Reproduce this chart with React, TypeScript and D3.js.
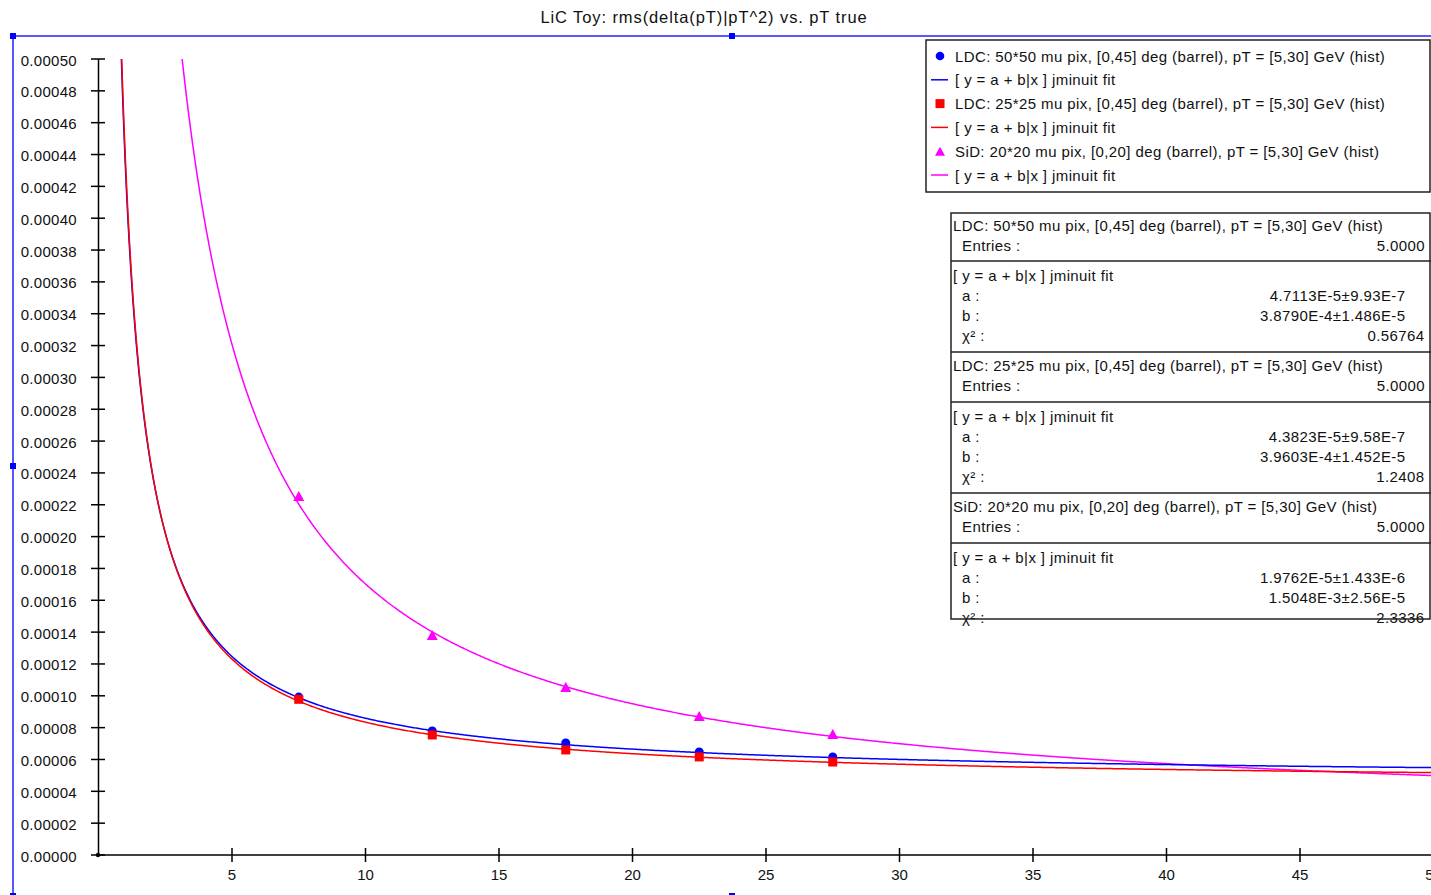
import React from "react";
import * as d3 from "d3";

// pT bin centres (GeV)
const ptCentres = [7.5, 12.5, 17.5, 22.5, 27.5];

// rms(delta(pT))/pT^2 per bin for each detector setup
const ldc50Values = [9.92e-5, 7.79e-5, 7.04e-5, 6.47e-5, 6.16e-5];
const ldc25Values = [9.78e-5, 7.54e-5, 6.6e-5, 6.16e-5, 5.84e-5];
const sidValues = [2.249e-4, 1.376e-4, 1.049e-4, 8.67e-5, 7.54e-5];

// fit parameters of y = a + b/x
const ldc50Fit = { a: 4.7113e-5, b: 3.879e-4 };
const ldc25Fit = { a: 4.3823e-5, b: 3.9603e-4 };
const sidFit = { a: 1.9762e-5, b: 1.5048e-3 };

const xTicks = [5, 10, 15, 20, 25, 30, 35, 40, 45, 50];
const yTicks = d3.range(0, 26).map((i) => i * 0.00002);

const legendLabels = [
  "LDC: 50*50 mu pix, [0,45] deg (barrel), pT = [5,30] GeV (hist)",
  "[ y = a + b|x ] jminuit fit",
  "LDC: 25*25 mu pix, [0,45] deg (barrel), pT = [5,30] GeV (hist)",
  "[ y = a + b|x ] jminuit fit",
  "SiD: 20*20 mu pix, [0,20] deg (barrel), pT = [5,30] GeV (hist)",
  "[ y = a + b|x ] jminuit fit",
];

const statsSections = [
  {
    title: "LDC: 50*50 mu pix, [0,45] deg (barrel), pT = [5,30] GeV (hist)",
    entries: "5.0000",
    fit: "[ y = a + b|x ] jminuit fit",
    a: "4.7113E-5±9.93E-7",
    b: "3.8790E-4±1.486E-5",
    chi2: "0.56764",
  },
  {
    title: "LDC: 25*25 mu pix, [0,45] deg (barrel), pT = [5,30] GeV (hist)",
    entries: "5.0000",
    fit: "[ y = a + b|x ] jminuit fit",
    a: "4.3823E-5±9.58E-7",
    b: "3.9603E-4±1.452E-5",
    chi2: "1.2408",
  },
  {
    title: "SiD: 20*20 mu pix, [0,20] deg (barrel), pT = [5,30] GeV (hist)",
    entries: "5.0000",
    fit: "[ y = a + b|x ] jminuit fit",
    a: "1.9762E-5±1.433E-6",
    b: "1.5048E-3±2.56E-5",
    chi2: "2.3336",
  },
];

const BLUE = "#0000ff";
const RED = "#ff0000";
const MAGENTA = "#ff00ff";
const FONT = "Liberation Sans, Arial, Helvetica, sans-serif";

const W = 1431;
const H = 895;

const x = d3.scaleLinear().domain([0, 50]).range([98.5, 1433.5]);
const y = d3.scaleLinear().domain([0, 0.0005]).range([855, 59]);

const curveXs = d3.range(0.5, 50.25, 0.05);

function fitPath(p: { a: number; b: number }) {
  const line = d3
    .line<number>()
    .x((v) => x(v))
    .y((v) => y(p.a + p.b / v));
  return line(curveXs) || "";
}

function Circle({ cx, cy, r = 4.5 }: { cx: number; cy: number; r?: number }) {
  return <circle cx={cx} cy={cy} r={r} fill={BLUE} />;
}
function Square({ cx, cy, s = 9 }: { cx: number; cy: number; s?: number }) {
  return <rect x={cx - s / 2} y={cy - s / 2} width={s} height={s} fill={RED} />;
}
function Triangle({ cx, cy, s = 11 }: { cx: number; cy: number; s?: number }) {
  const h = s * 0.9;
  return (
    <path
      d={`M${cx},${cy - h / 2 - 1}L${cx + s / 2},${cy + h / 2 - 1}L${cx - s / 2},${cy + h / 2 - 1}Z`}
      fill={MAGENTA}
    />
  );
}

export default function App() {
  const handles: [number, number][] = [
    [13, 36],
    [732, 36],
    [13, 466],
    [13, 896],
    [732, 896],
  ];

  const statTops = [213, 261, 352, 402, 493, 543];
  const rowH = 20;
  const LS = 0.4;

  return (
    <svg
      width={W}
      height={H}
      style={{ position: "absolute", left: 0, top: 0, background: "#fff" }}
      fontFamily={FONT}
    >
      <defs>
        <clipPath id="plotClip">
          <rect x={98.5} y={59} width={1340} height={796} />
        </clipPath>
      </defs>

      {/* Title */}
      <text
        x={704}
        y={17}
        fontSize={16.5}
        letterSpacing={0.9}
        textAnchor="middle"
        dominantBaseline="central"
        fill="#111"
      >
        LiC Toy: rms(delta(pT)|pT^2) vs. pT true
      </text>

      {/* Selection frame */}
      <rect x={13} y={36} width={1438} height={860} fill="none" stroke={BLUE} strokeWidth={1.3} />
      {handles.map(([hx, hy], i) => (
        <rect key={i} x={hx - 3} y={hy - 3} width={6} height={6} fill={BLUE} />
      ))}

      {/* Y axis */}
      <line x1={98.5} x2={98.5} y1={y(0.0005)} y2={y(0)} stroke="#000" strokeWidth={1.5} />
      {yTicks.map((v) => (
        <g key={v}>
          <line x1={91} x2={105} y1={y(v)} y2={y(v)} stroke="#000" strokeWidth={1.5} />
          <text
            x={77}
            y={y(v) + 1}
            fontSize={15}
            letterSpacing={0.3}
            textAnchor="end"
            dominantBaseline="central"
            fill="#111"
          >
            {v.toFixed(5)}
          </text>
        </g>
      ))}

      {/* X axis */}
      <line x1={98.5} x2={1433.5} y1={855} y2={855} stroke="#000" strokeWidth={1.5} />
      {xTicks.map((v) => (
        <g key={v}>
          <line x1={x(v)} x2={x(v)} y1={848} y2={862} stroke="#000" strokeWidth={1.5} />
          <text x={x(v)} y={874} fontSize={15} textAnchor="middle" dominantBaseline="central" fill="#111">
            {v}
          </text>
        </g>
      ))}
      <circle cx={98} cy={855} r={2.2} fill="#000" />

      {/* Fit curves */}
      <g clipPath="url(#plotClip)" fill="none" strokeWidth={1.5}>
        <path d={fitPath(sidFit)} stroke={MAGENTA} />
        <path d={fitPath(ldc50Fit)} stroke={BLUE} />
        <path d={fitPath(ldc25Fit)} stroke={RED} />
      </g>

      {/* Data points */}
      {ptCentres.map((pt, i) => (
        <Circle key={"c" + i} cx={x(pt)} cy={y(ldc50Values[i])} />
      ))}
      {ptCentres.map((pt, i) => (
        <Square key={"s" + i} cx={x(pt)} cy={y(ldc25Values[i])} />
      ))}
      {ptCentres.map((pt, i) => (
        <Triangle key={"t" + i} cx={x(pt)} cy={y(sidValues[i])} />
      ))}

      {/* Legend */}
      <rect x={926} y={40} width={504} height={152} fill="#fff" stroke="#222" strokeWidth={1.5} />
      {legendLabels.map((lbl, i) => {
        const ry = 56 + i * 23.8;
        let marker: React.ReactNode = null;
        if (i === 0) marker = <Circle cx={940} cy={ry} r={4.3} />;
        else if (i === 2) marker = <Square cx={940} cy={ry} s={9} />;
        else if (i === 4) marker = <Triangle cx={940} cy={ry + 1} s={10} />;
        else {
          const c = i === 1 ? BLUE : i === 3 ? RED : MAGENTA;
          marker = <line x1={931} x2={948} y1={ry} y2={ry} stroke={c} strokeWidth={1.5} />;
        }
        return (
          <g key={i}>
            {marker}
            <text x={955} y={ry} fontSize={15} letterSpacing={LS} dominantBaseline="central" fill="#111">
              {lbl}
            </text>
          </g>
        );
      })}

      {/* Statistics box */}
      <g>
        <rect x={951} y={213} width={479} height={406} fill="#fff" stroke="none" />
        {statsSections.map((s, k) => {
          const t1 = statTops[k * 2];
          const t2 = statTops[k * 2 + 1];
          const off1 = k === 0 ? 12 : 13.5;
          const r1 = (i: number) => t1 + off1 + i * rowH;
          const r2 = (i: number) => t2 + 14 + i * rowH;
          return (
            <g key={k} fontSize={15} fill="#111" letterSpacing={LS}>
              <text x={953} y={r1(0)} dominantBaseline="central">{s.title}</text>
              <text x={962} y={r1(1)} dominantBaseline="central">Entries :</text>
              <text x={1425} y={r1(1)} dominantBaseline="central" textAnchor="end">{s.entries}</text>
              <text x={953} y={r2(0)} dominantBaseline="central">{s.fit}</text>
              <text x={962} y={r2(1)} dominantBaseline="central">a :</text>
              <text x={1405.5} y={r2(1)} dominantBaseline="central" textAnchor="end">{s.a}</text>
              <text x={962} y={r2(2)} dominantBaseline="central">b :</text>
              <text x={1405.5} y={r2(2)} dominantBaseline="central" textAnchor="end">{s.b}</text>
              <text x={962} y={r2(3)} dominantBaseline="central">χ² :</text>
              <text x={1424.5} y={r2(3)} dominantBaseline="central" textAnchor="end">{s.chi2}</text>
            </g>
          );
        })}
        {statTops.slice(1).map((t) => (
          <line key={t} x1={951} x2={1431} y1={t} y2={t} stroke="#222" strokeWidth={1.5} />
        ))}
        <rect x={951} y={213} width={479} height={406} fill="none" stroke="#222" strokeWidth={1.5} />
      </g>
    </svg>
  );
}
